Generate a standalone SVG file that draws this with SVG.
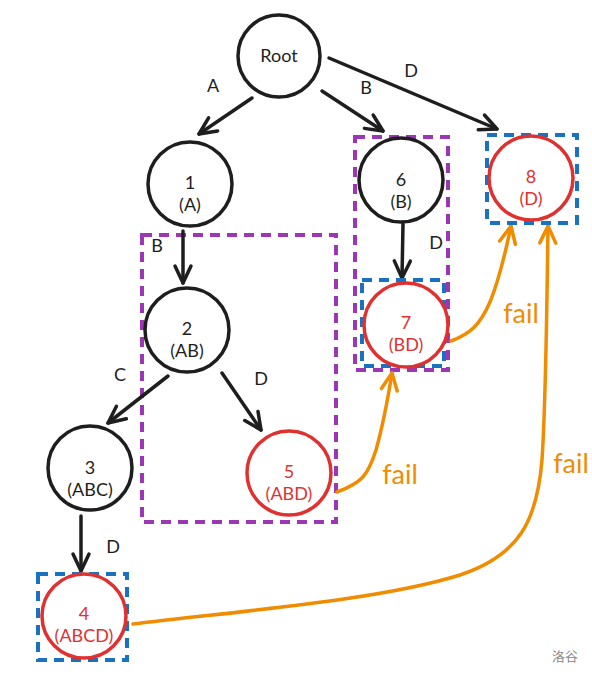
<svg xmlns="http://www.w3.org/2000/svg" width="592" height="676" viewBox="0 0 592 676">
<defs>
<style>
.n{fill:#fff;stroke:#1e1e1e;stroke-width:3.5}
.r{fill:#fff;stroke:#e03131;stroke-width:3.5}
.t{font-family:Lato,"Open Sans",sans-serif;font-size:18px;fill:#1e1e1e;text-anchor:middle}
.tr{font-family:Lato,"Open Sans",sans-serif;font-size:18px;fill:#e03131;text-anchor:middle}
.lb{font-family:Lato,"Open Sans",sans-serif;font-size:18px;fill:#1e1e1e;text-anchor:middle}
.fl{font-family:Lato,"Open Sans",sans-serif;font-size:27px;fill:#f08c00;text-anchor:middle}
.e{fill:none;stroke:#1e1e1e;stroke-width:3.5;stroke-linecap:round;marker-end:url(#ab)}
.f{fill:none;stroke:#f08c00;stroke-width:3.5;stroke-linecap:round;marker-end:url(#ao)}
.pb{fill:none;stroke:#9c36b5;stroke-width:4;stroke-dasharray:10 7}
.bb{fill:none;stroke:#1971c2;stroke-width:4;stroke-dasharray:10 7}
</style>
<marker id="ab" markerUnits="userSpaceOnUse" markerWidth="40" markerHeight="40" viewBox="-20 -20 40 40" refX="0" refY="0" orient="auto" overflow="visible">
<path d="M-17,-8 L0,0 L-17,8" fill="none" stroke="#1e1e1e" stroke-width="3.5" stroke-linecap="round" stroke-linejoin="round"/>
</marker>
<marker id="ao" markerUnits="userSpaceOnUse" markerWidth="40" markerHeight="40" viewBox="-20 -20 40 40" refX="0" refY="0" orient="auto" overflow="visible">
<path d="M-17,-8 L0,0 L-17,8" fill="none" stroke="#f08c00" stroke-width="3.5" stroke-linecap="round" stroke-linejoin="round"/>
</marker>
</defs>
<rect width="592" height="676" fill="#fff"/>
<g id="groups">
<rect class="pb" x="142" y="235" width="194" height="287"/>
<rect class="pb" x="355" y="137" width="93" height="233"/>
</g>
<g id="connectors">
<line class="e" x1="252" y1="98" x2="199" y2="134"/>
<line class="e" x1="322" y1="91" x2="383" y2="131"/>
<line class="e" x1="329" y1="58" x2="497" y2="129"/>
<line class="e" x1="183" y1="231" x2="183" y2="283"/>
<line class="e" x1="168" y1="376" x2="108" y2="423"/>
<line class="e" x1="222" y1="373" x2="261" y2="430"/>
<line class="e" x1="403" y1="224" x2="402" y2="278"/>
<line class="e" x1="81" y1="516" x2="81" y2="571"/>
<path class="f" d="M337,492 C362,483 368,475 376,450 C383,425 388,398 392,373"/>
<path class="f" d="M451,341 C470,334 480,325 490,302 C499,280 506,250 511,226"/>
<path class="f" d="M133,624 C250,610 380,600 460,575 C520,555 537,520 542,460 C546,400 547,300 548,226"/>
<text class="lb" x="213" y="92">A</text>
<text class="lb" x="366" y="94">B</text>
<text class="lb" x="411" y="77">D</text>
<text class="lb" x="157" y="252">B</text>
<text class="lb" x="120" y="381">C</text>
<text class="lb" x="261" y="385">D</text>
<text class="lb" x="436" y="249">D</text>
<text class="lb" x="113" y="553">D</text>
<text class="fl" x="400" y="484">fail</text>
<text class="fl" x="521" y="323">fail</text>
<text class="fl" x="571" y="473">fail</text>
</g>
<g id="root"><circle class="n" cx="279" cy="56" r="41"/><text class="t" x="279" y="62" font-size="19">Root</text></g>
<g id="n1"><circle class="n" cx="190" cy="184" r="42"/><text class="t" x="190" y="189">1</text><text class="t" x="190" y="211">(A)</text></g>
<g id="n2"><circle class="n" cx="187" cy="330" r="42"/><text class="t" x="187" y="335">2</text><text class="t" x="187" y="357">(AB)</text></g>
<g id="n3"><circle class="n" cx="90" cy="468" r="42"/><text class="t" x="90" y="474">3</text><text class="t" x="90" y="496">(ABC)</text></g>
<g id="n5"><circle class="r" cx="289" cy="473" r="42"/><text class="tr" x="289" y="478">5</text><text class="tr" x="289" y="500">(ABD)</text></g>
<g id="n6"><circle class="n" cx="401" cy="180" r="42"/><text class="t" x="401" y="186">6</text><text class="t" x="401" y="208">(B)</text></g>
<g id="n7"><rect class="bb" x="362" y="280" width="82" height="86"/><circle class="r" cx="406" cy="325" r="42"/><text class="tr" x="406" y="329">7</text><text class="tr" x="406" y="351">(BD)</text></g>
<g id="n8"><rect class="bb" x="487" y="135" width="90" height="88"/><circle class="r" cx="531" cy="178" r="42"/><text class="tr" x="531" y="183">8</text><text class="tr" x="531" y="205">(D)</text></g>
<g id="n4"><rect class="bb" x="38" y="574" width="89" height="86"/><circle class="r" cx="84" cy="616" r="42"/><text class="tr" x="84" y="620">4</text><text class="tr" x="84" y="642">(ABCD)</text></g>
<text x="565" y="661" font-family="'Noto Sans CJK SC',sans-serif" font-size="13" fill="#888" text-anchor="middle">洛谷</text>
</svg>
